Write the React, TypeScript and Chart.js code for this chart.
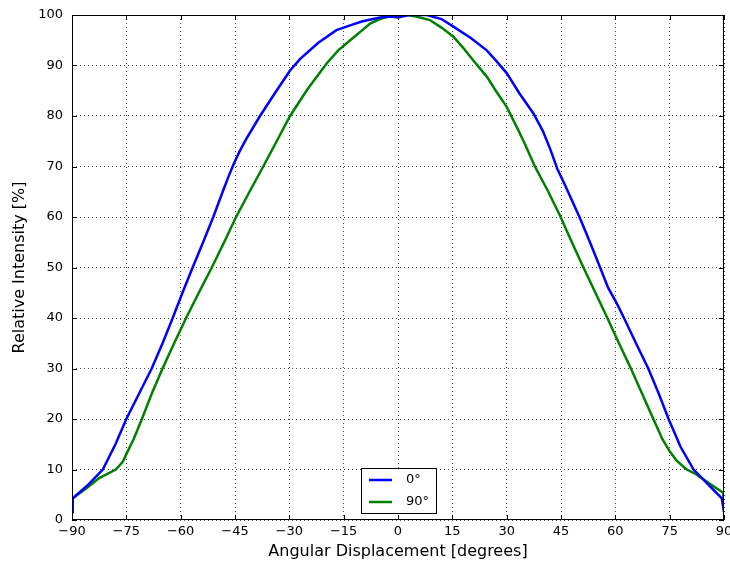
import React, { useEffect, useRef } from "react";
import { Chart, registerables } from "chart.js";

Chart.register(...registerables);

const angles0 = [-90, -89.8, -85.5, -81.5, -78, -75, -71.5, -68, -65, -62.2, -59.5, -56.7, -53.8, -51, -48.4, -46.8, -45.3, -43.8, -42, -38.1, -34, -29.8, -27, -22, -17, -13, -10, -5, -2, 0, 3, 8, 12, 15.3, 20, 24.5, 27, 30, 33.5, 37.4, 40, 42, 44, 46, 50.1, 53, 55.8, 58, 60.4, 62.4, 65.7, 69.1, 72, 74.7, 78, 81.6, 85, 89.4, 90];
const values0 = [1.6, 4.3, 7, 10, 15, 20, 25, 30, 35, 40, 45, 50, 55, 60, 65, 68, 70.6, 72.9, 75.3, 80, 84.5, 89, 91.3, 94.5, 97, 98, 98.7, 99.5, 99.7, 99.5, 100, 100, 99.2, 97.7, 95.5, 93, 91, 88.5, 84.5, 80.5, 77, 73.5, 69.5, 66.5, 60, 55, 50, 46, 42.9, 40, 35, 30, 25, 20, 14.5, 10, 7.5, 4.3, 1.6];

const angles90 = [-90, -89.8, -86, -82.5, -77.9, -76, -75.1, -73, -70.7, -68, -65, -61.8, -58.5, -55, -51.4, -48, -44.7, -41, -37.2, -33.5, -29.8, -25, -19.7, -16.5, -13.2, -10, -7.7, -5, -3.1, 0, 2.2, 5, 8.8, 12, 15.3, 18, 20.8, 24.5, 27, 30, 33, 35, 37.8, 41.5, 44.9, 48, 51.2, 54.5, 57.8, 61, 64.3, 67.4, 70.5, 73, 75.1, 77, 79.7, 82, 86, 89.8, 90];
const values90 = [1.6, 4.3, 6.3, 8.3, 10, 11.5, 12.9, 16, 20, 25, 30, 35, 40, 45, 50, 55, 60, 65, 70, 75, 80, 85.3, 90.4, 93, 95, 96.9, 98.3, 99.2, 99.6, 99.8, 100, 99.7, 99, 97.5, 95.7, 93.5, 91, 87.8, 85, 81.8, 77.5, 74.5, 70, 65, 60, 55, 50, 45, 40, 35, 30, 25, 20, 16, 13.5, 11.7, 10, 9.2, 7.2, 5.4, 1.6];

const seriesLabels = ["0°", "90°"];
const seriesColors = ["#0000ff", "#008000"];
const xTicks = [-90, -75, -60, -45, -30, -15, 0, 15, 30, 45, 60, 75, 90];
const xTitle = "Angular Displacement [degrees]";
const yTitle = "Relative Intensity [%]";

const FONT = "'DejaVu Sans', sans-serif";

const framePlugin = {
  id: "frame",
  afterDraw(chart: any) {
    const { ctx, chartArea } = chart;
    const { left, right, top, bottom } = chartArea;
    ctx.save();
    ctx.strokeStyle = "#000";
    ctx.lineWidth = 1;
    ctx.strokeRect(left + 0.5, top + 0.5, right - left - 1, bottom - top - 1);
    const xs = chart.scales.x;
    const ys = chart.scales.y;
    ctx.beginPath();
    xs.ticks.forEach((t: any) => {
      const px = Math.round(xs.getPixelForValue(t.value)) + 0.5;
      ctx.moveTo(px, bottom);
      ctx.lineTo(px, bottom - 5);
      ctx.moveTo(px, top);
      ctx.lineTo(px, top + 5);
    });
    ys.ticks.forEach((t: any) => {
      const py = Math.round(ys.getPixelForValue(t.value)) + 0.5;
      ctx.moveTo(left, py);
      ctx.lineTo(left + 5, py);
      ctx.moveTo(right, py);
      ctx.lineTo(right - 5, py);
    });
    ctx.stroke();

    const bx = 361, by = 468, bw = 75, bh = 45;
    ctx.fillStyle = "#fff";
    ctx.fillRect(bx, by, bw, bh);
    ctx.strokeStyle = "#000";
    ctx.lineWidth = 1;
    ctx.strokeRect(bx + 0.5, by + 0.5, bw, bh);
    ctx.font = `13px ${FONT}`;
    ctx.textBaseline = "middle";
    chart.data.datasets.forEach((ds: any, i: number) => {
      const ly = by + 12 + i * 22;
      ctx.strokeStyle = ds.borderColor;
      ctx.lineWidth = 2.5;
      ctx.beginPath();
      ctx.moveTo(bx + 8, ly);
      ctx.lineTo(bx + 31, ly);
      ctx.stroke();
      ctx.fillStyle = "#000";
      ctx.fillText(ds.label, bx + 45, ly);
    });
    ctx.restore();
  },
};

export default function App() {
  const ref = useRef<HTMLCanvasElement>(null);
  useEffect(() => {
    document.body.style.margin = "0";
    if (!ref.current) return;
    const mk = (xa: number[], ya: number[]) => xa.map((x, i) => ({ x, y: ya[i] }));
    const chart = new Chart(ref.current, {
      type: "line",
      data: {
        datasets: [
          { label: seriesLabels[0], data: mk(angles0, values0), borderColor: seriesColors[0], borderWidth: 2.5, pointRadius: 0, tension: 0, fill: false },
          { label: seriesLabels[1], data: mk(angles90, values90), borderColor: seriesColors[1], borderWidth: 2.5, pointRadius: 0, tension: 0, fill: false },
        ],
      },
      options: {
        responsive: false,
        animation: false,
        devicePixelRatio: 1,
        layout: { padding: { top: 15, right: 6, left: 0, bottom: 0 } },
        plugins: { legend: { display: false }, tooltip: { enabled: false } },
        scales: {
          x: {
            type: "linear",
            min: -90,
            max: 90,
            afterBuildTicks: (s: any) => { s.ticks = xTicks.map((v) => ({ value: v })); },
            afterFit: (s: any) => { s.height = 47; s.paddingLeft = 0; s.paddingRight = 0; },
            ticks: {
              color: "#000",
              font: { family: FONT, size: 13 },
              padding: 4,
              maxRotation: 0,
              callback: (v: any) => (v < 0 ? "\u2212" + Math.abs(v) : String(v)),
            },
            grid: { color: "rgba(0,0,0,0.7)", drawTicks: false },
            border: { display: false, dash: [1, 3] },
            title: { display: true, text: xTitle, color: "#000", font: { family: FONT, size: 16 }, padding: { top: 2, bottom: 6 } },
          },
          y: {
            min: 0,
            max: 100,
            afterFit: (s: any) => { s.width = 72; s.paddingTop = 0; s.paddingBottom = 0; },
            ticks: { stepSize: 10, color: "#000", font: { family: FONT, size: 13 }, padding: 9 },
            grid: { color: "rgba(0,0,0,0.7)", drawTicks: false },
            border: { display: false, dash: [1, 3] },
            title: { display: true, text: yTitle, color: "#000", font: { family: FONT, size: 16 }, padding: { top: 10, bottom: 8 } },
          },
        },
      },
      plugins: [framePlugin],
    });
    return () => chart.destroy();
  }, []);
  return <canvas ref={ref} width={730} height={567} style={{ display: "block" }} />;
}
